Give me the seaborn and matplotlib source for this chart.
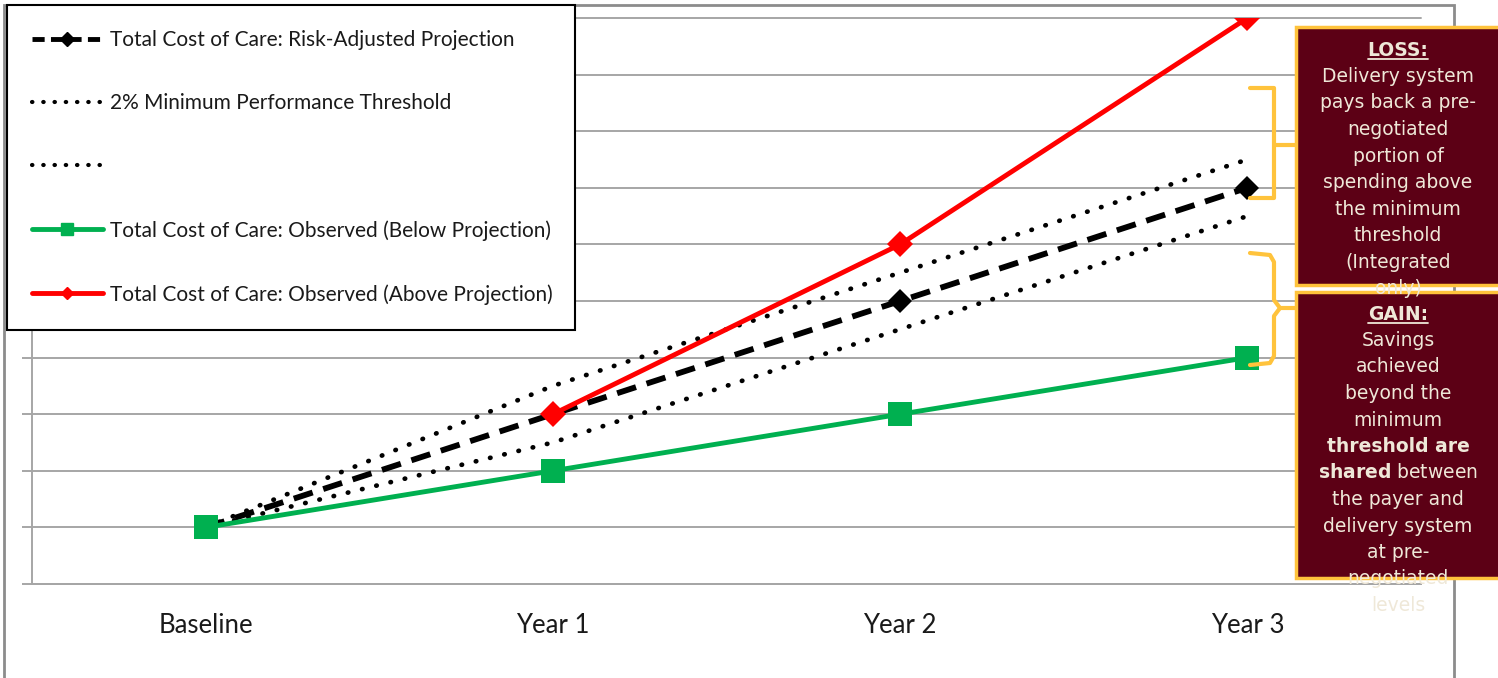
import matplotlib
matplotlib.use('Agg')
import matplotlib.pyplot as plt
import seaborn as sns
import numpy as np
from matplotlib.lines import Line2D
from matplotlib.patches import Rectangle

# ------------------------------------------------------------------
# Data (arbitrary cost units)
# ------------------------------------------------------------------
periods = ['Baseline', 'Year 1', 'Year 2', 'Year 3']
projection = [1, 3, 5, 7]
upper_threshold = [1, 3.5, 5.5, 7.5]
lower_threshold = [1, 2.5, 4.5, 6.5]
observed_below = [1, 2, 3, 4]
above_periods = ['Year 1', 'Year 2', 'Year 3']
observed_above = [3, 6, 10]

legend_labels = [
    'Total Cost of Care: Risk-Adjusted Projection',
    '2% Minimum Performance Threshold',
    ' ',
    'Total Cost of Care: Observed (Below Projection)',
    'Total Cost of Care: Observed (Above Projection)',
]

# (text, bold) per line of the two call-out boxes
loss_lines = [('LOSS:', True), ('Delivery system', False), ('pays back a pre-', False),
              ('negotiated', False), ('portion of', False), ('spending above', False),
              ('the minimum', False), ('threshold', False), ('(Integrated', False),
              ('only)', False)]
gain_lines = [('GAIN:', True), ('Savings', False), ('achieved', False), ('beyond the', False),
              ('minimum', False), ('threshold are', True), (r'$\mathbf{shared}$ between', False),
              ('the payer and', False), ('delivery system', False), ('at pre-', False),
              ('negotiated', False), ('levels', False)]

GREEN = '#00B050'
RED = '#FF0000'
GOLD = '#FFC33C'
MAROON = '#5C0015'
CREAM = '#EFE8D8'
GRID = '#A6A6A6'

W, H = 1498, 678

sns.set_style('white')
plt.rcParams['font.family'] = ['Lato', 'DejaVu Sans']
plt.rcParams['mathtext.fontset'] = 'dejavusans'


def fx(x):
    return x / W


def fy(y):
    return 1 - y / H


fig = plt.figure(figsize=(W / 100, H / 100), dpi=100)
ax = fig.add_axes([fx(32), fy(584), fx(1421) - fx(32), fy(18) - fy(584)])

pos = {p: i for i, p in enumerate(periods)}
x_all = [pos[p] for p in periods]
x_above = [pos[p] for p in above_periods]

dot_style = (0, (0.1, 3.0))
sns.lineplot(x=x_all, y=upper_threshold, ax=ax, color='black', lw=3.4,
             linestyle=dot_style, dash_capstyle='round', zorder=3)
sns.lineplot(x=x_all, y=lower_threshold, ax=ax, color='black', lw=3.4,
             linestyle=dot_style, dash_capstyle='round', zorder=3)
sns.lineplot(x=x_all, y=projection, ax=ax, color='black', lw=4.2,
             linestyle=(0, (3.4, 1.9)), marker='D', markersize=12.5,
             markeredgecolor='black', markeredgewidth=0, zorder=4)
sns.lineplot(x=x_all, y=observed_below, ax=ax, color=GREEN, lw=3.5,
             marker='s', markersize=17, markeredgecolor=GREEN,
             markeredgewidth=0, zorder=5)
sns.lineplot(x=x_above, y=observed_above, ax=ax, color=RED, lw=3.5,
             marker='D', markersize=13, markeredgecolor=RED,
             markeredgewidth=0, zorder=6)

ax.set_xlim(-0.5, 3.5)
ax.set_ylim(0, 10)
ax.set_xlabel('')
ax.set_ylabel('')

ax.set_yticks(np.arange(0, 11))
ax.set_yticklabels([])
ax.yaxis.grid(True, color=GRID, lw=1.4)
for gl in ax.get_ygridlines():
    gl.set_clip_on(False)
ax.set_axisbelow(True)
ax.set_xticks(np.arange(-0.5, 4, 1))
ax.set_xticklabels([])
ax.set_xticks(x_all, minor=True)
ax.set_xticklabels(periods, minor=True, fontsize=18.5, color='#1a1a1a')
ax.tick_params(axis='x', which='major', length=7, width=1.4, color=GRID, direction='out')
ax.tick_params(axis='x', which='minor', length=0, pad=21)
ax.tick_params(axis='y', length=7, width=1.4, color=GRID, direction='out', left=True)
for side in ['top', 'right']:
    ax.spines[side].set_visible(False)
for side in ['left', 'bottom']:
    ax.spines[side].set_color(GRID)
    ax.spines[side].set_linewidth(1.4)

# legend with proxy handles (smaller markers as in the original)
handles = [
    Line2D([], [], color='black', lw=3.5, linestyle=(0, (2.5, 1.3)), marker='D', markersize=7),
    Line2D([], [], color='black', lw=3, linestyle=(0, (0.1, 2.6)), dash_capstyle='round'),
    Line2D([], [], color='black', lw=3, linestyle=(0, (0.1, 2.6)), dash_capstyle='round'),
    Line2D([], [], color=GREEN, lw=3.5, marker='s', markersize=8),
    Line2D([], [], color=RED, lw=3.5, marker='D', markersize=6),
]
leg = ax.legend(handles, legend_labels, loc='upper left',
                bbox_to_anchor=(fx(7), fy(325), fx(575) - fx(7), fy(5) - fy(325)),
                bbox_transform=fig.transFigure, mode='expand', borderaxespad=0,
                fontsize=15, frameon=True, fancybox=False, edgecolor='black',
                framealpha=1, handlelength=3.4, handletextpad=0.35,
                labelspacing=2.08, borderpad=1.2, labelcolor='#1a1a1a')
leg.get_frame().set_linewidth(1.5)
leg.set_zorder(10)

# outer chart frame
fig.add_artist(Rectangle((fx(4), -0.05), fx(1454) - fx(4), fy(5) + 0.05,
                         transform=fig.transFigure, fill=False, edgecolor='#8C8C8C',
                         lw=2, zorder=0))


# brackets pointing at the loss / gain regions
def bracket(points):
    xs = [fx(p[0]) for p in points]
    ys = [fy(p[1]) for p in points]
    fig.add_artist(Line2D(xs, ys, transform=fig.transFigure, color=GOLD, lw=3,
                          solid_joinstyle='round', zorder=20))


bracket([(1250, 88), (1274, 88), (1274, 198), (1250, 198)])
bracket([(1274, 145), (1296, 145)])
bracket([(1250, 253), (1270, 255), (1274, 262), (1274, 300), (1280, 308), (1274, 316),
         (1274, 356), (1270, 363), (1250, 365)])
bracket([(1280, 308), (1296, 308)])

# annotation boxes
for top, bottom in [(27, 285), (292, 578)]:
    fig.add_artist(Rectangle((fx(1296), fy(bottom)), fx(1510) - fx(1296), fy(top) - fy(bottom),
                             transform=fig.transFigure, facecolor=MAROON, edgecolor=GOLD,
                             lw=2.5, zorder=21))


def box_text(lines, y0, step=26.5):
    out = []
    for i, (line, bold) in enumerate(lines):
        t = fig.text(fx(1398), fy(y0 + i * step), line, ha='center', va='center',
                     fontsize=13.5, color=CREAM, family='DejaVu Sans',
                     fontweight='bold' if bold else 'normal', zorder=22)
        out.append(t)
    return out


loss_texts = box_text(loss_lines, 50)
gain_texts = box_text(gain_lines, 314)

# underline the two headings
fig.canvas.draw()
for t in [loss_texts[0], gain_texts[0]]:
    bb = t.get_window_extent()
    fig.add_artist(Line2D([bb.x0 / W, bb.x1 / W], [(bb.y0 + 1) / H, (bb.y0 + 1) / H],
                          transform=fig.transFigure, color=CREAM, lw=1.3, zorder=22))

fig.savefig('out.png', dpi=100, facecolor='white')
